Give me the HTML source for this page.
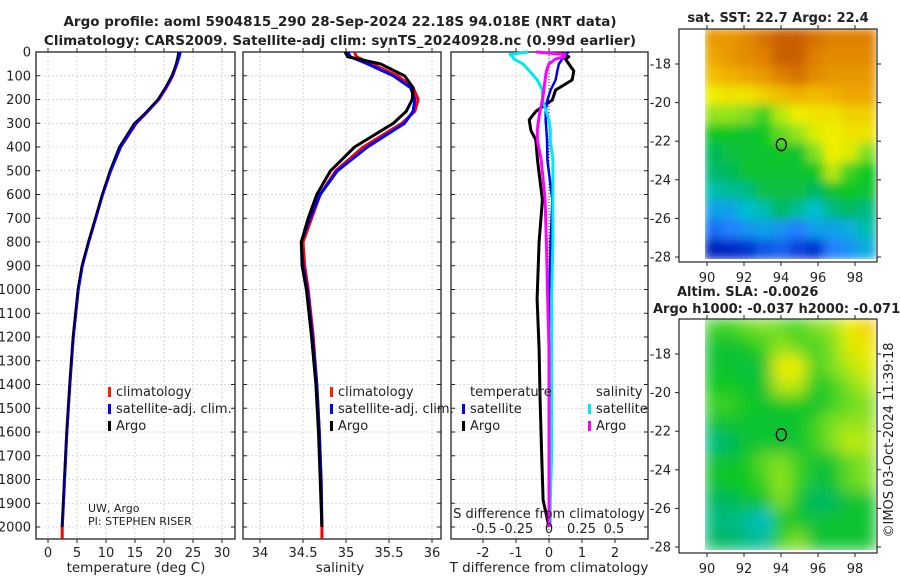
<!DOCTYPE html>
<html><head><meta charset="utf-8"><style>
html,body{margin:0;padding:0;background:#fff;width:900px;height:580px;overflow:hidden}
svg text{font-family:"DejaVu Sans","Liberation Sans",sans-serif;fill:#222}
</style></head><body>
<svg id="fig" width="900" height="580" viewBox="0 0 900 580" xmlns="http://www.w3.org/2000/svg">
<defs>
<filter id="blur1" x="0" y="0" width="1" height="1"><feGaussianBlur stdDeviation="5"/></filter>
<filter id="blur2" x="0" y="0" width="1" height="1"><feGaussianBlur stdDeviation="8"/></filter>
<clipPath id="c1"><rect x="705" y="29" width="171" height="230"/></clipPath>
<clipPath id="c2"><rect x="705" y="319" width="171" height="231"/></clipPath>
</defs>
<text x="340" y="26" text-anchor="middle" font-weight="bold" font-size="13.5">Argo profile: aoml 5904815_290 28-Sep-2024 22.18S 94.018E (NRT data)</text>
<text x="340" y="45" text-anchor="middle" font-weight="bold" font-size="13.5">Climatology: CARS2009. Satellite-adj clim: synTS_20240928.nc (0.99d earlier)</text>
<g id="g"></g>
</svg>
<script>
// ---------- data ----------
const depths = [0,20,50,100,150,200,250,300,400,500,600,700,800,900,1000,1200,1400,1600,1800,2000];
const tempArgo = [22.4,22.3,22.0,21.3,20.2,18.9,17.0,14.8,12.2,10.6,9.3,8.1,6.9,5.8,5.1,4.3,3.7,3.2,2.8,2.4];
const tempClim = [22.6,22.5,22.2,21.5,20.4,19.1,17.2,15.2,12.5,10.8,9.4,8.2,7.0,5.9,5.2,4.35,3.75,3.25,2.85,2.45];
const tempSat  = [22.8,22.6,22.2,21.4,20.3,19.0,17.1,15.1,12.5,10.8,9.4,8.2,7.0,5.9,5.2,4.35,3.75,3.25,2.85,2.45];
const salArgo = [34.99,35.02,35.4,35.68,35.78,35.77,35.7,35.55,35.1,34.82,34.66,34.56,34.48,34.49,34.54,34.6,34.65,34.68,34.7,34.72];
const salClim = [35.1,35.12,35.3,35.6,35.78,35.84,35.8,35.65,35.2,34.88,34.7,34.6,34.5,34.52,34.56,34.62,34.66,34.69,34.71,34.72];
const salSat  = [35.02,35.05,35.25,35.55,35.75,35.8,35.78,35.68,35.25,34.9,34.7,34.58,34.48,34.5,34.55,34.61,34.66,34.69,34.71,34.72];
const diffDepths = [0,10,20,30,50,80,118,160,202,250,286,330,370,455,623,800,1040,1250,1465,1700,1886,2000];
const dTArgo = [0.45,0.4,0.6,0.5,0.6,0.75,0.7,0.2,0.1,-0.4,-0.6,-0.55,-0.4,-0.35,-0.2,-0.3,-0.36,-0.3,-0.27,-0.22,-0.18,0];
const dTSat  = [0.6,0.5,0.45,0.4,0.3,0.25,0.2,0.05,-0.05,-0.1,-0.1,-0.08,-0.06,-0.05,0.1,0.05,0.02,0.02,0.02,0.01,0.0,0];
const dSSat  = [-0.16,-0.3,-0.28,-0.27,-0.2,-0.15,-0.09,-0.05,-0.05,-0.02,0.0,0.01,0.01,0.03,0.03,0.03,0.02,0.02,0.02,0.02,0.01,0.01];
const dSArgo = [-0.1,0.12,0.12,0.05,0.0,-0.02,-0.03,-0.04,-0.05,-0.07,-0.08,-0.09,-0.09,-0.06,-0.03,-0.02,-0.01,0,0,0,0,0];
const depthTicks = [0,100,200,300,400,500,600,700,800,900,1000,1100,1200,1300,1400,1500,1600,1700,1800,1900,2000];
const tempTicks = [0,5,10,15,20,25,30];
const salTicks = [34,34.5,35,35.5,36];
const salTickLabels = ['34','34.5','35','35.5','36'];
const dTTicks = [-2,-1,0,1,2];
const dTTickLabels = ['-2','-1','0','1','2'];
const dSTicks = [-0.5,-0.25,0,0.25,0.5];
const dSTickLabels = ['-0.5','-0.25','0','0.25','0.5'];
const latTicks = [-18,-20,-22,-24,-26,-28];
const lonTicks = [90,92,94,96,98];
const sstGrid = [
[.85,.85,.88,.92,.95,.95,.92,.9,.9,.9],
[.82,.85,.88,.9,.95,.95,.9,.88,.88,.88],
[.78,.8,.82,.85,.9,.92,.88,.85,.85,.85],
[.7,.72,.72,.75,.78,.8,.78,.8,.82,.82],
[.62,.62,.6,.55,.65,.7,.72,.72,.75,.75],
[.52,.52,.5,.52,.58,.62,.68,.7,.72,.72],
[.46,.48,.5,.5,.52,.5,.6,.7,.68,.6],
[.44,.46,.5,.5,.5,.5,.52,.65,.55,.52],
[.38,.4,.42,.48,.48,.48,.45,.5,.52,.5],
[.3,.3,.35,.38,.45,.4,.35,.42,.45,.42],
[.22,.25,.28,.3,.28,.25,.3,.3,.32,.38],
[.08,.1,.12,.18,.2,.15,.12,.25,.28,.32]];
const slaGrid = [
[.55,.55,.58,.6,.58,.55,.6,.62,.7,.75],
[.5,.5,.52,.55,.62,.58,.55,.6,.68,.72],
[.5,.5,.48,.5,.7,.7,.55,.6,.65,.68],
[.52,.52,.5,.5,.66,.65,.52,.55,.6,.65],
[.55,.55,.52,.5,.52,.52,.5,.55,.58,.6],
[.48,.5,.5,.5,.5,.5,.55,.6,.62,.62],
[.42,.45,.5,.5,.5,.5,.55,.6,.66,.65],
[.5,.5,.52,.58,.6,.55,.5,.5,.58,.6],
[.5,.52,.52,.55,.62,.55,.48,.5,.58,.6],
[.45,.45,.5,.5,.6,.5,.45,.45,.5,.5],
[.42,.42,.4,.35,.52,.5,.48,.5,.5,.5],
[.45,.45,.42,.4,.55,.6,.5,.5,.5,.5]];
const floatLon = 94.018, floatLat = -22.18;

// ---------- helpers ----------
const NS='http://www.w3.org/2000/svg';
const G=document.getElementById('g');
function mk(tag,attrs,parent){const e=document.createElementNS(NS,tag);for(const k in attrs)e.setAttribute(k,attrs[k]);(parent||G).appendChild(e);return e;}
const yD = d => 52 + d*0.2375;
const PT = {x0:36,x1:235}, PS={x0:243,x1:441}, PD={x0:451,x1:648};
const xT = t => 48 + 5.8*t;
const xS = s => 260 + 86*(s-34);
const xdT = d => 549 + 33*d;
const xdS = d => 549 + 130*d;
const yTop=52, yBot=539;

function frame(P,name,xt,xf,labels,showDepth){
  const g=mk('g',{});
  
  
  depthTicks.forEach(d=>{
    const l=mk('line',{x1:P.x0,x2:P.x1,y1:yD(d),y2:yD(d),stroke:'#c8cce8','stroke-width':0.8,'stroke-dasharray':'2,2'},g);
    
    
    mk('line',{x1:P.x0,x2:P.x0+4,y1:yD(d),y2:yD(d),stroke:'#222'},g);
    mk('line',{x1:P.x1,x2:P.x1-4,y1:yD(d),y2:yD(d),stroke:'#222'},g);
    if(showDepth){const t=mk('text',{x:P.x0-5,y:yD(d)+4.5,'text-anchor':'end','font-size':13},g);t.textContent=d;
      
      }
  });
  xt.forEach((v,i)=>{
    const x=xf(v);
    mk('line',{x1:x,x2:x,y1:yTop,y2:yBot,stroke:'#e4c8b8','stroke-width':0.8,'stroke-dasharray':'2,2'},g);
    mk('line',{x1:x,x2:x,y1:yBot,y2:yBot+4,stroke:'#222'},g);
    mk('line',{x1:x,x2:x,y1:yTop,y2:yTop-4,stroke:'#222'},g);
    const t=mk('text',{x:x,y:557,'text-anchor':'middle','font-size':13},g);t.textContent=labels[i];
    
    
  });
  const r=mk('rect',{x:P.x0,y:yTop,width:P.x1-P.x0,height:yBot-yTop,fill:'none',stroke:'#222','stroke-width':1.3},g);
  
  
}
function line(ds,vals,xf,color,name,w){
  const p=ds.map((d,i)=>(i?'L':'M')+xf(vals[i]).toFixed(1)+','+yD(d).toFixed(1)).join('');
  const e=mk('path',{d:p,fill:'none',stroke:color,'stroke-width':w||3,'stroke-linejoin':'round'});
  
  
}
function txt(x,y,s,size,name,anchor,extra){
  const t=mk('text',Object.assign({x:x,y:y,'font-size':size,'text-anchor':anchor||'start'},extra||{}));t.textContent=s;
  
  
  return t;
}
function legItem(x,y,color,label,name){
  const r=mk('rect',{x:x,y:y-9,width:3,height:10,fill:color});
  
  
  txt(x+8,y,label,13,name);
}

// ---------- panel 1 ----------
frame(PT,'temperature-panel',tempTicks,xT,tempTicks.map(String),true);
line(depths,tempClim,xT,'#ff0000','temp-climatology-line');
mk('line',{x1:xT(2.45),x2:xT(2.45),y1:yD(2000),y2:yBot,stroke:'#ff0000','stroke-width':3});
line(depths,tempSat,xT,'#0000ff','temp-satellite-line');
line(depths,tempArgo,xT,'#000','temp-argo-line',1.5);
legItem(108,396,'#ff2000','climatology','legend-climatology');
legItem(108,413,'#0000ff','satellite-adj. clim.','legend-satellite');
legItem(108,430,'#000','Argo','legend-argo');
txt(88,512,'UW, Argo',11,'institution-label');
txt(88,525,'PI: STEPHEN RISER',11,'pi-label');
txt(136,572,'temperature (deg C)',13.5,'x-axis-title-temperature','middle');

// ---------- panel 2 ----------
frame(PS,'salinity-panel',salTicks,xS,salTickLabels,false);
line(depths,salClim,xS,'#ff0000','sal-climatology-line');
mk('line',{x1:xS(34.72),x2:xS(34.72),y1:yD(2000),y2:yBot,stroke:'#ff0000','stroke-width':3});
line(depths,salSat,xS,'#0000ff','sal-satellite-line');
line(depths,salArgo,xS,'#000','sal-argo-line',3);
legItem(330,396,'#ff2000','climatology','legend2-climatology');
legItem(330,413,'#0000ff','satellite-adj. clim.','legend2-satellite');
legItem(330,430,'#000','Argo','legend2-argo');
txt(340,572,'salinity',13.5,'x-axis-title-salinity','middle');

// ---------- panel 3 ----------
frame(PD,'difference-panel',dTTicks,xdT,dTTickLabels,false);
mk('line',{x1:549,x2:549,y1:yTop,y2:yBot,stroke:'#333','stroke-width':1,'stroke-dasharray':'1,2'});
line(diffDepths,dTArgo,xdT,'#000','dT-argo-line',3);
line(diffDepths,dTSat,xdT,'#0000ff','dT-satellite-line',2.5);
line(diffDepths,dSSat,xdS,'#00e8f0','dS-satellite-line',3);
line(diffDepths,dSArgo,xdS,'#ff00ff','dS-argo-line',3);
txt(470,396,'temperature',13,'legend3-temperature-heading');
txt(596,396,'salinity',13,'legend3-salinity-heading');
legItem(462,413,'#0000ff','satellite','legend3-t-satellite');
legItem(462,430,'#000','Argo','legend3-t-argo');
legItem(588,413,'#00e8f0','satellite','legend3-s-satellite');
legItem(588,430,'#ff00ff','Argo','legend3-s-argo');
txt(549,518,'S difference from climatology',13,'s-diff-axis-title','middle');
dSTicks.forEach((v,i)=>txt(xdS(v),533,dSTickLabels[i],13,'s-diff-tick-label','middle'));
txt(549,572,'T difference from climatology',13.5,'x-axis-title-tdiff','middle');

// ---------- maps ----------
const jet=[[0,[0,0,140]],[.12,[0,48,208]],[.25,[32,128,255]],[.35,[0,192,208]],[.45,[0,184,96]],[.52,[16,200,32]],[.6,[128,224,32]],[.7,[240,240,0]],[.8,[240,176,0]],[.9,[224,128,0]],[1,[176,64,0]]];
function cmap(v){for(let i=1;i<jet.length;i++){if(v<=jet[i][0]){const a=jet[i-1],b=jet[i],f=(v-a[0])/(b[0]-a[0]);return 'rgb('+a[1].map((c,k)=>Math.round(c+(b[1][k]-c)*f)).join(',')+')';}}return 'rgb(176,64,0)';}
function mapPanel(grid,y0,y1,clip,filt,name,latY){
  const g=mk('g',{'clip-path':'url(#'+clip+')'});
  
  
  const inner=mk('g',{filter:'url(#'+filt+')'},g);
  const rows=grid.length, cols=grid[0].length, cw=171/cols, ch=(y1-y0)/rows;
  grid.forEach((row,r)=>row.forEach((v,c)=>{
    const cell=mk('rect',{x:705+c*cw-1,y:y0+r*ch-1,width:cw+2,height:ch+2,fill:cmap(v)},inner);
    
    
  }));
  const lonX=l=>707+18.5*(l-90);
  const fr=mk('rect',{x:679,y:y0,width:198,height:y1-y0+3,fill:'none',stroke:'#222','stroke-width':1.2});
  
  
  latTicks.forEach(l=>{const y=latY(l);
    mk('line',{x1:679,x2:675,y1:y,y2:y,stroke:'#222'});
    mk('line',{x1:877,x2:881,y1:y,y2:y,stroke:'#222'});
    txt(671,y+4.5,String(l),13,'lat-tick-label','end');});
  lonTicks.forEach(l=>{const x=lonX(l);
    mk('line',{x1:x,x2:x,y1:y1+3,y2:y1+7,stroke:'#222'});
    mk('line',{x1:x,x2:x,y1:y0,y2:y0-4,stroke:'#222'});
    txt(x,y1+23,String(l),13,'lon-tick-label','middle');});
  const m=mk('ellipse',{cx:lonX(floatLon),cy:latY(floatLat),rx:5,ry:6,fill:'none',stroke:'#000','stroke-width':1.3});
  
  
}
mapPanel(sstGrid,29,259,'c1','blur1','sst-map',l=>64+19.3*(-18-l));
mapPanel(slaGrid,319,550,'c2','blur2','sla-map',l=>354+19.3*(-18-l));
txt(778,22,'sat. SST: 22.7 Argo: 22.4',13,'sst-map-title','middle',{'font-weight':'bold'});
txt(677,296,'Altim. SLA: -0.0026',13,'sla-map-title','start',{'font-weight':'bold'});
txt(653,313,'Argo h1000: -0.037 h2000: -0.071',13,'argo-height-title','start',{'font-weight':'bold'});
txt(0,0,'©IMOS 03-Oct-2024 11:39:18',13,'copyright-timestamp','middle',{transform:'translate(893,440) rotate(-90)'});
</script>
</body></html>
